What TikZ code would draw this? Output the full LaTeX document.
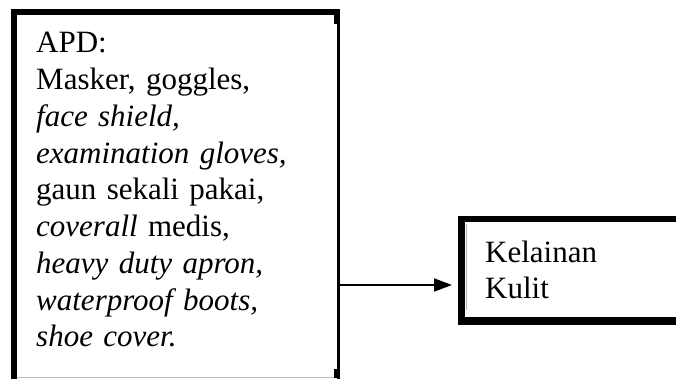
\documentclass[tikz,border=0pt]{standalone}
\usepackage{fontspec}
\setmainfont{Liberation Serif}
\usetikzlibrary{arrows.meta}
\tikzset{
  boxframe/.style={inner sep=0pt, anchor=north west},
  boxtext/.style={inner sep=0pt, anchor=base west, align=left, text width=#1,
    font=\fontsize{31pt}{36.75pt}\selectfont},
  connector/.style={line width=1.9pt, -{Triangle[length=18pt,width=13pt]}}
}
\begin{document}
\begin{tikzpicture}[x=1pt,y=1pt]
\useasboundingbox (0,0) rectangle (676,378);
\fill[white] (0,0) rectangle (676,378);
% left box
\node[boxframe, minimum width=329pt, minimum height=374pt] (apd) at (11,369) {};
\fill (apd.north west) rectangle ([xshift=6pt]apd.south west);
\fill (apd.north west) rectangle ([yshift=-6pt]apd.north east);
\fill ([xshift=-3pt]apd.north east) rectangle (apd.south east);
\fill ([xshift=-6pt,yshift=-6pt]apd.north east) rectangle ([xshift=-2pt,yshift=-15pt]apd.north east);
\fill (334,0) rectangle (338,9);
\draw[black!25, line width=1pt] (17,1) -- (334,1);
\node[boxtext=300pt] (apdtext) at (36,325) {APD:\\Masker, goggles,\\\textit{face shield,}\\\textit{examination gloves,}\\gaun sekali pakai,\\\textit{coverall} medis,\\\textit{heavy duty apron,}\\\textit{waterproof boots,}\\\textit{shoe cover.}};
% right box
\node[boxframe, minimum width=232pt, minimum height=109pt] (kel) at (458,162) {};
\fill (kel.north west) rectangle ([xshift=7pt]kel.south west);
\fill (kel.north west) rectangle ([yshift=-6pt]kel.north east);
\fill (kel.south west) rectangle ([yshift=8pt]kel.south east);
\draw[black!30, line width=0.8pt] (466,68) -- (466,154);
\node[boxtext=180pt] (keltext) at (485,116) {Kelainan\\Kulit};
% connector
\coordinate (arrowstart) at (apd.east |- 0,93);
\coordinate (arrowend) at ([xshift=-6pt]kel.west |- 0,93);
\draw[connector] (arrowstart) -- (arrowend);
\end{tikzpicture}
\end{document}
